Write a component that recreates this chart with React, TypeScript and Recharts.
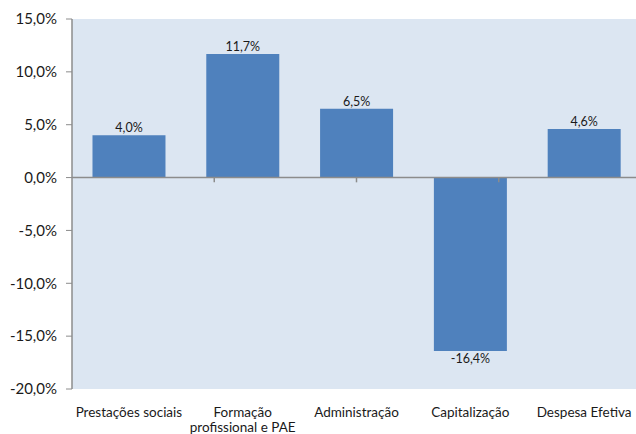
import React from 'react';
import {
  BarChart, Bar, XAxis, YAxis, CartesianGrid, ReferenceLine, LabelList,
} from 'recharts';

const categories = [
  'Prestações sociais',
  'Formação profissional e PAE',
  'Administração',
  'Capitalização',
  'Despesa Efetiva',
];
const variation = [4.0, 11.7, 6.5, -16.4, 4.6];
const yTicks = [-20, -15, -10, -5, 0, 5, 10, 15];
const boundaries = [1, 2, 3, 4];

const data = categories.map((name, i) => ({ name, value: variation[i] }));

const pct = (v: number) => `${v.toFixed(1).replace('.', ',')}%`;

const FONT = 'Lato, "Open Sans", sans-serif';

const splitLabel = (s: string) => {
  if (s.length <= 20) return [s];
  const i = s.indexOf(' ');
  return [s.slice(0, i), s.slice(i + 1)];
};

const CategoryTick = ({ x, y, payload }: { x?: number; y?: number; payload?: { value: string } }) => {
  const lines = splitLabel(payload?.value ?? '');
  return (
    <text x={x} y={y} textAnchor="middle" fontSize={13.5} fontFamily={FONT} fill="#1a1a1a">
      {lines.map((l, i) => (
        <tspan key={i} x={x} dy={i === 0 ? 20 : 15}>{l}</tspan>
      ))}
    </text>
  );
};

export default function App() {
  return (
    <div style={{ position: 'absolute', left: 0, top: 0, width: 636, height: 434, overflow: 'hidden', background: '#fff' }}>
      <BarChart
        width={641}
        height={434}
        data={data}
        margin={{ top: 19, right: 0, left: 0, bottom: 0 }}
        barCategoryGap="18%"
      >
        <CartesianGrid fill="#dce6f2" stroke="none" horizontal={false} vertical={false} />
        <XAxis
          dataKey="name"
          height={45}
          axisLine={false}
          tickLine={false}
          interval={0}
          tick={<CategoryTick />}
        />
        <XAxis xAxisId="b" type="number" domain={[0, 5]} hide height={0} />
        <YAxis
          width={72}
          domain={[-20, 15]}
          ticks={yTicks}
          interval={0}
          tickFormatter={pct}
          axisLine={{ stroke: '#8c8c8c', strokeWidth: 1.5 }}
          tickLine={{ stroke: '#8c8c8c' }}
          tickSize={6}
          tickMargin={9}
          tick={{ fontSize: 15, fill: '#1a1a1a', fontFamily: FONT }}
        />
        <Bar dataKey="value" fill="#4f81bd" isAnimationActive={false}>
          <LabelList
            dataKey="value"
            position="top"
            offset={3}
            formatter={(v: number) => pct(v)}
            style={{ fontSize: 12.5, fill: '#1a1a1a', fontFamily: FONT }}
          />
        </Bar>
        <ReferenceLine y={0} stroke="#8c8c8c" strokeWidth={1.5} />
        {boundaries.map((b) => (
          <ReferenceLine
            key={b}
            xAxisId="b"
            segment={[{ x: b, y: 0 }, { x: b, y: -0.45 }]}
            stroke="#8c8c8c"
            strokeWidth={1.5}
          />
        ))}
      </BarChart>
    </div>
  );
}
